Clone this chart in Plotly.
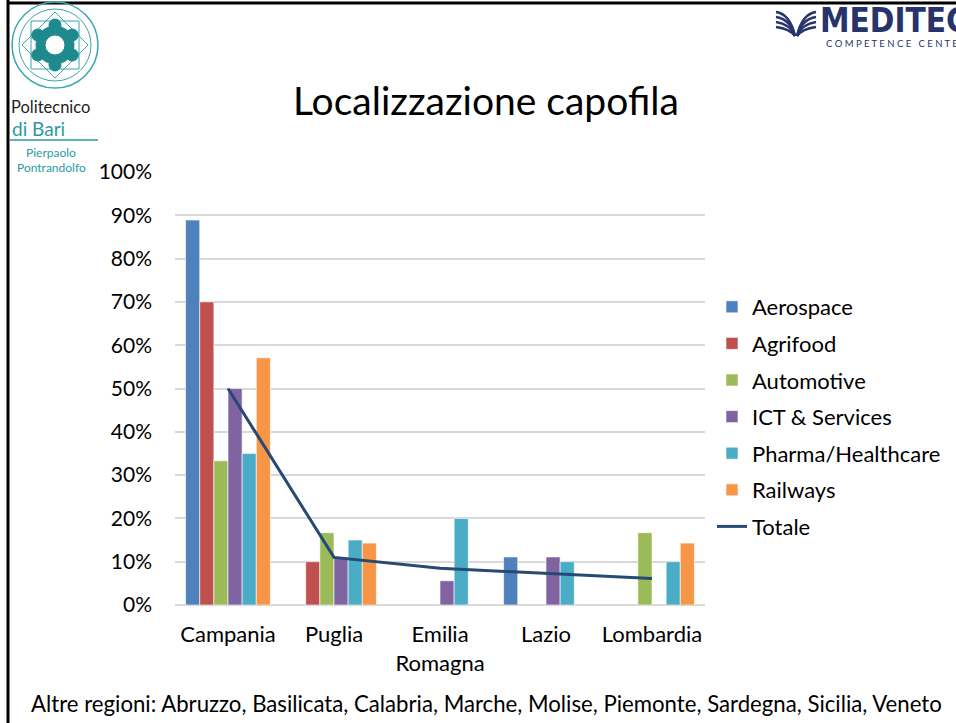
import math
import plotly.graph_objects as go

categories = ["Campania", "Puglia", "Emilia<br>Romagna", "Lazio", "Lombardia"]
aerospace = [0.889, None, None, 0.111, None]
agrifood = [0.70, 0.10, None, None, None]
automotive = [0.333, 0.167, None, None, 0.167]
ict = [0.50, 0.111, 0.056, 0.111, None]
pharma = [0.35, 0.15, 0.20, 0.10, 0.10]
railways = [0.571, 0.143, None, None, 0.143]
totale = [0.50, 0.11, 0.085, 0.073, 0.061]

series = [
    ("Aerospace", aerospace, "#4F81BD"),
    ("Agrifood", agrifood, "#C0504D"),
    ("Automotive", automotive, "#9BBB59"),
    ("ICT & Services", ict, "#8064A2"),
    ("Pharma/Healthcare", pharma, "#4BACC6"),
    ("Railways", railways, "#F79646"),
]

FONT = "Lato"
W, H = 956, 723
L, R, T, B = 175, 705, 172, 605
TEAL = "#2A9BA5"
NAVY = "#27336B"

fig = go.Figure()
for name, vals, col in series:
    fig.add_trace(go.Bar(x=categories, y=vals, name=name, marker_color=col, legendgroup=name,
                         marker_line=dict(color="rgba(255,255,255,0.6)", width=1)))
fig.add_trace(go.Scatter(x=categories, y=totale, name="Totale", mode="lines", legendgroup="Totale",
                         line=dict(color="#264A73", width=3)))

def px(x):
    return (x - L) / (R - L)

def py(y):
    return (B - y) / (B - T)

def circ(cx, cy, r, **kw):
    return dict(type="circle", xref="paper", yref="paper",
                x0=px(cx - r), x1=px(cx + r), y0=py(cy + r), y1=py(cy - r), **kw)

shapes = [
    dict(type="line", xref="paper", yref="paper", x0=px(8), x1=px(8), y0=py(0), y1=py(723),
         line=dict(color="black", width=3)),
    dict(type="line", xref="paper", yref="paper", x0=px(8), x1=px(956), y0=py(3), y1=py(3),
         line=dict(color="black", width=3)),
    dict(type="line", xref="paper", yref="paper", x0=px(10), x1=px(98), y0=py(140), y1=py(140),
         line=dict(color=TEAL, width=1.5)),
    # seal
    circ(55, 45, 43, line=dict(color="#3AA6AE", width=1.5)),
    circ(55, 45, 36, line=dict(color="#3AA6AE", width=1)),
    dict(type="path", xref="paper", yref="paper",
         path=f"M {px(55)},{py(12)} L {px(88)},{py(45)} L {px(55)},{py(78)} L {px(22)},{py(45)} Z",
         line=dict(color="#3AA6AE", width=1)),
    dict(type="rect", xref="paper", yref="paper", x0=px(31), x1=px(79), y0=py(69), y1=py(21),
         line=dict(color="#3AA6AE", width=1)),
    circ(55, 45, 19, fillcolor="#1E8A8E", line=dict(color="#1E8A8E", width=1)),
]
for k in range(6):
    a = math.pi / 2 + k * math.pi / 3
    shapes.append(circ(55 + 20 * math.cos(a), 45 - 20 * math.sin(a), 6,
                       fillcolor="#1E8A8E", line=dict(color="#1E8A8E", width=1)))
shapes.append(circ(55, 45, 10, fillcolor="white", line=dict(color="#1E8A8E", width=1)))

# meditech icon: stacked bands
for i in range(4):
    off = i * 5
    shapes.append(dict(type="path", xref="paper", yref="paper",
                       path=f"M {px(776)},{py(12 + off)} Q {px(790)},{py(14 + off)} {px(795)},{py(36)}",
                       line=dict(color=NAVY, width=2.5)))
    shapes.append(dict(type="path", xref="paper", yref="paper",
                       path=f"M {px(816)},{py(12 + off)} Q {px(802)},{py(14 + off)} {px(797)},{py(36)}",
                       line=dict(color=NAVY, width=2.5)))

annotations = [
    dict(text="Localizzazione capofila", x=px(486), y=py(100), xref="paper", yref="paper",
         showarrow=False, font=dict(size=39, color="black", family=FONT), xanchor="center", yanchor="middle"),
    dict(text="Altre regioni: Abruzzo, Basilicata, Calabria, Marche, Molise, Piemonte, Sardegna, Sicilia, Veneto",
         x=px(486), y=py(703), xref="paper", yref="paper", showarrow=False,
         font=dict(size=22.2, color="black", family=FONT), xanchor="center", yanchor="middle"),
    dict(text="Politecnico", x=px(9), y=py(107), xref="paper", yref="paper", showarrow=False,
         font=dict(size=16.5, color="#222", family=FONT), xanchor="left", yanchor="middle"),
    dict(text="di Bari", x=px(10), y=py(128), xref="paper", yref="paper", showarrow=False,
         font=dict(size=19, color=TEAL, family=FONT), xanchor="left", yanchor="middle"),
    dict(text="Pierpaolo", x=px(51), y=py(152), xref="paper", yref="paper", showarrow=False,
         font=dict(size=12, color=TEAL, family=FONT), xanchor="center", yanchor="middle"),
    dict(text="Pontrandolfo", x=px(51), y=py(167), xref="paper", yref="paper", showarrow=False,
         font=dict(size=12, color=TEAL, family=FONT), xanchor="center", yanchor="middle"),
    dict(text="<b>MEDITECH</b>", x=px(818), y=py(20), xref="paper", yref="paper", showarrow=False,
         font=dict(size=33, color=NAVY, family="Liberation Sans Narrow, DejaVu Sans Condensed"),
         xanchor="left", yanchor="middle"),
    dict(text="C O M P E T E N C E &nbsp; C E N T E R", x=px(824), y=py(43), xref="paper", yref="paper",
         showarrow=False, font=dict(size=9.5, color=NAVY, family=FONT), xanchor="left", yanchor="middle"),
]

fig.update_layout(
    width=W, height=H,
    margin=dict(l=L, r=W - R, t=T, b=H - B, autoexpand=False),
    paper_bgcolor="white", plot_bgcolor="white",
    barmode="group", bargap=0.2, bargroupgap=0,
    font=dict(family=FONT, size=22, color="black"),
    shapes=shapes, annotations=annotations,
    legend=dict(x=px(712), y=py(286), xanchor="left", yanchor="top",
                font=dict(size=22, family=FONT), tracegroupgap=5, itemwidth=30,
                bgcolor="rgba(0,0,0,0)"),
    xaxis=dict(showgrid=False, showline=False, ticks="", tickfont=dict(size=22),
               ticklabelstandoff=14),
    yaxis=dict(range=[0, 1.0], dtick=0.1, tickformat=".0%", showgrid=True,
               gridcolor="#D9D9D9", gridwidth=1.5, zeroline=True, zerolinecolor="#D9D9D9",
               zerolinewidth=1.5, showline=False, ticks="", ticklabelstandoff=22,
               tickfont=dict(size=21)),
)

fig.write_html("out.html", config={"displayModeBar": False},
               post_script="document.body.style.margin='0';document.body.style.overflow='hidden';")
